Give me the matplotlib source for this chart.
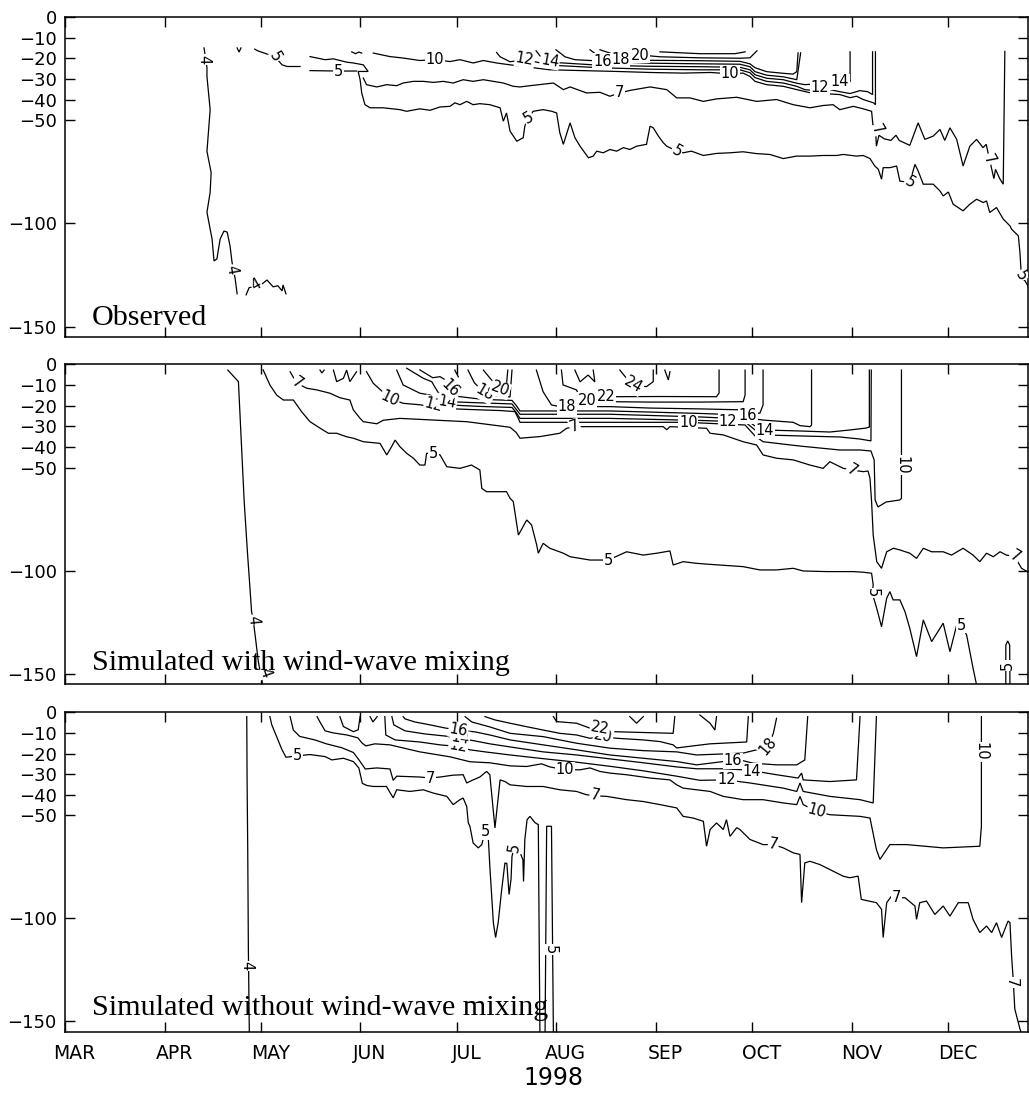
import matplotlib.pyplot as plt
import numpy as np

# time axis: days since 1 March 1998; vertical axis: depth in metres (negative down)
months = ['MAR', 'APR', 'MAY', 'JUN', 'JUL', 'AUG', 'SEP', 'OCT', 'NOV', 'DEC']
month_start = [0, 31, 61, 92, 122, 153, 184, 214, 245, 275]
depth_ticks = [0, -10, -20, -30, -40, -50, -100, -150]

# ---------------- observed isotherms (day, depth) ----------------
obs_4a = [(43.3, -15.0), (44.2, -24.6), (44.2, -28.9), (45.2, -44.9), (44.2, -65.1), (45.5, -75.3),
          (45.2, -84.9), (44.2, -94.6), (45.8, -107.6), (46.4, -118.2), (47.3, -117.2), (48.3, -107.6),
          (49.5, -103.7), (50.5, -104.2), (51.4, -111.0), (52.0, -118.7), (53.0, -126.9), (53.6, -134.1)]
obs_4b = [(56.4, -134.6), (57.3, -131.2), (61.4, -129.3), (62.9, -127.4), (64.8, -130.7), (66.3, -130.2),
          (67.6, -132.7), (67.9, -129.8), (68.8, -134.1)]
obs_4c = [(53.6, -15.0), (54.2, -17.0), (54.8, -15.0)]
obs_5a = [(59.1, -15.6), (60.0, -16.4), (65.4, -19.3), (67.6, -23.2), (69.2, -24.0), (73.2, -24.0)]
obs_5b = [(76.3, -26.0), (85.0, -26.2), (90.8, -26.2)]
obs_5c = [(76.3, -19.2), (81.0, -20.7), (83.6, -20.3), (87.7, -21.9), (89.8, -22.3), (92.9, -23.2),
          (94.4, -26.4), (91.3, -26.4), (91.9, -30.4), (92.4, -36.8), (93.4, -42.5), (95.0, -44.0),
          (99.1, -44.0), (104.3, -44.9), (106.4, -45.7), (110.5, -44.5), (113.7, -45.2), (116.8, -43.6),
          (119.9, -43.3), (121.4, -41.6), (123.0, -42.5), (125.1, -40.9), (127.1, -42.5), (129.2, -42.0),
          (132.3, -42.5), (135.5, -44.0), (136.5, -50.5), (137.5, -46.5), (138.6, -55.3), (140.7, -60.2),
          (142.7, -58.5), (143.2, -52.9), (144.3, -48.9), (145.8, -45.7), (148.9, -44.9), (151.6, -45.7),
          (153.1, -46.5), (154.1, -56.1), (155.2, -61.7), (157.3, -51.3), (158.8, -58.5), (160.4, -62.6),
          (163.0, -68.2), (164.5, -67.4), (165.6, -65.0), (167.6, -65.8), (169.7, -64.2), (171.8, -65.0),
          (173.9, -63.3), (175.9, -64.2), (178.0, -62.6), (181.1, -61.7), (182.2, -52.9), (183.2, -53.7),
          (184.8, -57.7), (186.3, -60.9), (187.4, -62.6), (190.5, -65.0), (192.5, -65.8), (195.1, -65.0),
          (198.8, -67.1), (202.9, -66.1), (207.1, -65.8), (211.2, -65.3), (215.4, -66.2), (219.5, -66.6),
          (223.7, -68.6), (227.8, -67.4), (232.0, -67.4), (236.1, -67.1), (240.3, -67.1), (242.4, -66.6),
          (246.5, -67.4), (248.6, -67.1), (250.7, -68.6), (252.2, -72.2), (253.3, -73.8), (254.3, -78.6),
          (254.8, -73.0), (256.9, -73.0), (259.0, -72.2), (260.0, -79.5), (263.1, -80.2), (264.7, -71.4),
          (265.7, -74.6), (267.3, -81.0), (270.4, -81.0), (272.5, -84.3), (273.5, -86.7), (275.1, -84.8),
          (276.6, -90.7), (279.7, -93.9), (281.8, -90.7), (283.9, -88.3), (286.0, -89.9), (287.0, -89.1),
          (288.0, -94.7), (290.1, -92.3), (292.2, -97.9), (294.3, -101.2), (294.8, -102.8), (296.9, -106.0),
          (297.4, -114.0), (297.9, -126.9), (299.0, -127.8), (300.5, -132.0)]
obs_7 = [(92.9, -29.6), (93.9, -32.8), (97.1, -33.9), (100.2, -32.8), (103.3, -33.3), (105.3, -32.0),
         (108.5, -31.2), (111.6, -31.2), (114.7, -31.7), (117.8, -31.2), (120.9, -32.0), (124.0, -30.4),
         (127.1, -31.2), (130.3, -30.4), (133.4, -31.2), (136.5, -32.0), (139.6, -33.6), (141.7, -33.9),
         (144.8, -33.3), (152.1, -32.0), (155.2, -35.2), (157.3, -33.9), (162.4, -36.8), (166.6, -36.5),
         (169.7, -38.4), (172.8, -36.8), (175.9, -35.6), (182.2, -33.9), (187.4, -35.2), (190.5, -39.2),
         (194.6, -39.2), (198.8, -40.9), (202.9, -39.7), (209.2, -38.9), (215.4, -40.9), (221.6, -40.0),
         (226.8, -42.5), (232.0, -44.0), (236.1, -42.9), (239.2, -42.5), (241.3, -44.9), (245.5, -43.3),
         (248.6, -44.5), (251.2, -45.7), (251.6, -52.1), (252.8, -54.5), (252.5, -57.0), (252.7, -62.6),
         (253.5, -57.3), (255.1, -59.0), (257.2, -59.8), (258.8, -57.3), (259.8, -59.8), (263.1, -62.2),
         (265.7, -51.3), (267.8, -59.3), (270.4, -57.7), (272.5, -54.5), (274.0, -59.8), (275.6, -53.7),
         (277.7, -59.3), (279.7, -72.2), (281.8, -62.6), (283.9, -59.3), (285.9, -63.3), (286.9, -61.7),
         (287.5, -66.0), (288.8, -75.0), (289.3, -78.3), (289.8, -73.8), (291.1, -78.3), (292.2, -81.0),
         (292.7, -16.7)]
obs_9 = [(89.3, -16.9), (90.5, -17.8), (91.5, -17.0), (92.4, -17.5)]
obs_10 = [(96.0, -17.5), (101.2, -19.2), (105.3, -19.9), (110.5, -21.1), (115.2, -20.7), (119.9, -21.6),
          (123.0, -20.7), (127.1, -22.3), (130.3, -21.1), (134.4, -22.3), (138.6, -23.2), (142.7, -24.0),
          (151.0, -25.6), (161.4, -26.0), (171.8, -26.4), (182.2, -26.9), (192.5, -27.2), (200.9, -26.9),
          (207.1, -27.5), (211.2, -27.2), (213.3, -28.8), (214.9, -31.2), (218.5, -32.8), (223.7, -33.6),
          (227.9, -35.2), (232.0, -36.7), (241.3, -37.6), (244.5, -39.1), (246.5, -38.4), (248.6, -40.0),
          (251.8, -41.6), (252.4, -42.5), (252.4, -16.9)]
obs_12 = [(134.4, -17.2), (135.5, -19.3), (138.6, -21.7), (143.2, -20.7), (147.9, -22.2), (154.1, -23.6),
          (166.6, -24.6), (182.2, -25.3), (197.7, -25.6), (210.2, -25.6), (213.3, -27.0), (214.9, -29.4),
          (218.5, -31.2), (223.7, -32.0), (227.9, -33.6), (230.4, -35.2), (233.5, -35.7), (235.1, -34.3),
          (238.2, -35.2), (241.3, -36.2), (244.5, -37.1), (247.5, -35.7), (250.0, -36.2), (251.5, -37.6),
          (251.5, -16.9)]
obs_14 = [(146.7, -16.4), (147.9, -18.8), (151.0, -21.2), (154.1, -22.2), (166.6, -23.4), (182.2, -23.9),
          (197.7, -24.1), (210.2, -24.4), (213.3, -25.6), (214.9, -28.0), (218.5, -29.7), (223.7, -30.4),
          (227.9, -32.1), (230.4, -32.8), (235.1, -32.3), (240.3, -31.4), (242.8, -31.4), (244.5, -31.4),
          (244.5, -16.9)]
obs_16 = [(152.9, -15.9), (155.7, -19.3), (158.8, -20.7), (168.5, -21.5), (182.2, -22.4), (197.7, -22.7),
          (210.2, -22.9), (213.3, -24.1), (214.9, -26.5), (218.5, -28.2), (223.7, -29.0), (227.9, -30.4),
          (229.1, -17.4)]
obs_18 = [(163.5, -15.9), (166.0, -18.8), (172.8, -20.5), (182.2, -21.0), (197.7, -21.2), (210.2, -21.5),
          (213.3, -22.7), (214.9, -24.6), (218.5, -26.5), (223.7, -27.3), (226.7, -27.7), (227.9, -26.5),
          (228.3, -17.4)]
obs_20 = [(166.6, -15.9), (171.3, -18.3), (176.9, -18.1), (185.3, -19.3), (197.7, -19.8), (210.2, -20.0),
          (213.3, -19.8), (215.5, -16.4)]
obs_22 = [(185.3, -16.9), (197.7, -17.8), (208.6, -17.8), (211.8, -16.9)]
obs_labels = [('4', 43.3, -20.7, -90), ('4', 52.0, -122.5, -80), ('4', 59.5, -129.5, 30),
              ('5', 65.4, -19.3, -60), ('5', 85.1, -26.2, 0), ('10', 115.2, -20.7, 0),
              ('12', 143.2, -20.7, -10), ('14', 151.0, -21.2, -10), ('16', 167.3, -21.5, 0),
              ('18', 173.0, -20.4, 0), ('20', 179.0, -18.5, 0), ('5', 144.3, -48.9, 30),
              ('7', 172.8, -36.8, 0), ('5', 190.5, -65.0, -30), ('10', 207.1, -27.5, 0),
              ('12', 235.1, -34.3, 0), ('14', 241.3, -31.4, 0), ('7', 252.8, -54.5, -60),
              ('5', 263.1, -80.2, -30), ('7', 287.8, -69.0, -60), ('5', 297.6, -125.5, -60)]

# ---------------- simulated with wind-wave mixing ----------------
ww_4 = [(50.7, -2.8), (54.0, -8.4), (54.3, -18.1), (55.0, -40.7), (55.8, -66.5), (56.8, -90.8),
        (57.6, -108.5), (58.1, -119.8), (58.6, -123.8), (59.2, -131.1), (60.2, -144.0), (61.3, -152.9),
        (61.7, -157.0)]
ww_5 = [(61.7, -2.7), (63.8, -10.0), (65.9, -14.9), (68.0, -17.3), (71.1, -17.3), (73.7, -23.0),
        (76.3, -27.8), (79.4, -30.9), (82.0, -33.4), (84.6, -33.4), (87.7, -35.1), (89.8, -35.8),
        (92.9, -37.5), (98.1, -38.3), (100.2, -43.9), (101.7, -39.9), (102.8, -36.7), (104.3, -39.9),
        (106.4, -43.1), (108.5, -45.5), (110.5, -48.8), (112.1, -48.8), (112.6, -43.1), (114.7, -43.1),
        (116.8, -43.9), (118.9, -49.6), (123.0, -50.4), (126.6, -48.8), (129.2, -51.2), (129.8, -60.1),
        (131.3, -61.7), (137.5, -61.7), (138.6, -64.9), (139.6, -66.5), (141.2, -82.7), (143.8, -75.4),
        (145.3, -77.8), (146.9, -87.5), (147.4, -91.5), (148.9, -86.7), (151.0, -89.1), (155.2, -91.5),
        (157.3, -93.2), (163.5, -94.8), (169.2, -94.8), (174.9, -90.8), (180.1, -92.4), (184.3, -91.5),
        (188.4, -90.4), (189.4, -97.2), (192.5, -95.6), (196.7, -96.4), (200.9, -96.9), (211.2, -98.0),
        (216.4, -99.6), (221.6, -99.6), (226.8, -98.8), (229.9, -100.1), (237.2, -100.4), (245.5, -100.4),
        (248.6, -100.7), (251.2, -101.2), (251.7, -106.9), (251.4, -110.8), (252.8, -118.2), (254.3, -127.1),
        (255.9, -113.3), (256.9, -110.1), (257.9, -114.1), (260.0, -114.1), (261.6, -119.8), (263.1, -127.9),
        (265.2, -141.6), (267.3, -123.8), (269.9, -134.3), (273.5, -125.4), (275.6, -139.2), (277.7, -126.3),
        (279.2, -126.3), (280.8, -131.1), (282.8, -147.2), (283.9, -155.3), (284.2, -158.0)]
ww_5b = [(293.0, -157.0), (293.0, -136.0), (293.6, -134.0), (294.2, -136.0), (294.3, -157.0)]
ww_7 = [(70.1, -3.6), (72.2, -9.2), (75.3, -11.6), (78.4, -12.4), (82.5, -14.0), (85.6, -16.2),
        (88.7, -17.3), (89.8, -22.1), (91.9, -26.2), (92.9, -27.8), (97.1, -28.8), (99.1, -27.1),
        (104.3, -26.2), (114.7, -27.0), (125.1, -27.8), (138.6, -30.5), (140.5, -33.0), (141.7, -35.8),
        (148.0, -35.0), (154.1, -33.4), (156.2, -31.0), (158.8, -30.2), (172.8, -30.2), (186.3, -30.2),
        (187.4, -31.7), (188.4, -30.2), (199.8, -31.0), (200.9, -33.4), (205.0, -34.2), (211.2, -37.5),
        (215.4, -39.1), (217.4, -43.9), (221.6, -45.5), (226.8, -46.3), (232.0, -48.8), (236.1, -50.4),
        (238.2, -47.2), (240.3, -48.8), (242.4, -50.4), (245.0, -51.2), (248.6, -52.0), (250.1, -51.7),
        (250.7, -55.2), (251.2, -66.5), (251.7, -82.7), (252.8, -95.6), (254.3, -98.8), (255.9, -90.8),
        (258.0, -89.1), (260.0, -89.9), (263.1, -91.5), (265.2, -94.0), (267.3, -89.1), (269.9, -90.8),
        (273.5, -90.8), (276.1, -92.4), (279.7, -89.1), (282.8, -92.4), (284.9, -95.6), (287.0, -91.5),
        (289.1, -93.2), (291.2, -90.8), (293.2, -92.4), (295.8, -93.2), (297.9, -98.8), (299.9, -100.6),
        (301.0, -101.0)]
ww_10 = [(93.9, -3.6), (96.0, -9.2), (101.2, -16.5), (105.3, -18.9), (110.5, -19.6), (116.8, -21.3),
         (126.1, -21.9), (135.5, -22.4), (140.1, -22.9), (141.1, -26.0), (141.7, -28.1), (169.7, -28.1),
         (194.1, -28.1), (197.7, -28.4), (211.8, -29.4), (214.9, -34.7), (217.4, -37.5), (228.9, -39.6),
         (241.3, -41.5), (247.6, -41.5), (251.0, -42.0), (252.0, -46.3), (252.3, -65.8), (253.2, -69.1),
         (255.7, -66.7), (260.0, -65.7), (260.5, -64.9), (260.5, -2.8)]
ww_12 = [(103.3, -2.8), (105.3, -10.0), (110.5, -14.0), (113.7, -14.9), (115.7, -17.3), (116.8, -18.9),
         (119.9, -19.7), (129.2, -20.4), (139.2, -20.9), (140.4, -23.1), (141.7, -26.2), (169.7, -26.2),
         (197.7, -27.2), (211.8, -27.9), (214.9, -31.8), (217.4, -34.2), (228.9, -34.7), (241.3, -35.2),
         (247.6, -36.2), (251.0, -37.1), (251.1, -2.8)]
ww_14 = [(106.4, -1.9), (111.6, -6.8), (114.2, -8.4), (116.1, -13.4), (119.9, -18.1), (126.1, -18.5),
         (139.2, -19.2), (140.4, -21.6), (141.7, -24.2), (169.7, -24.2), (197.7, -25.5), (211.8, -26.5),
         (214.9, -29.9), (217.4, -31.8), (228.9, -32.3), (238.2, -32.8), (244.5, -31.8), (249.4, -30.9),
         (250.5, -30.4), (250.5, -2.8)]
ww_16 = [(110.5, -2.7), (114.5, -6.5), (116.8, -6.0), (118.9, -8.0), (119.9, -11.6), (121.4, -15.4),
         (130.2, -17.0), (139.2, -17.5), (140.4, -19.7), (141.7, -22.6), (169.7, -22.6), (197.7, -23.8),
         (211.8, -24.6), (214.9, -26.5), (217.4, -27.0), (221.6, -27.5), (226.8, -28.1), (228.9, -29.7),
         (232.0, -30.2), (232.5, -29.4), (232.5, -2.8)]
ww_18a = [(125.5, -2.8), (127.5, -9.0), (130.8, -14.0), (134.8, -15.4), (138.6, -15.8), (139.2, -2.8)]
ww_20a = [(130.3, -2.8), (132.4, -6.8), (135.5, -12.0), (137.3, -13.0), (137.9, -2.8)]
ww_18b = [(146.8, -2.8), (148.9, -13.3), (151.5, -19.7), (154.1, -20.5), (169.7, -20.5), (182.2, -21.2),
          (197.7, -21.6), (211.8, -22.1), (214.9, -23.6), (216.4, -23.7), (217.4, -19.7), (217.4, -2.8)]
ww_20b = [(154.6, -2.8), (155.1, -10.0), (159.3, -12.4), (160.4, -16.2), (163.5, -17.8), (169.7, -18.1),
          (182.2, -18.3), (197.7, -18.3), (211.2, -18.1), (211.8, -14.9), (211.8, -2.8)]
ww_22 = [(164.5, -13.9), (166.1, -14.9), (169.7, -15.7), (185.3, -15.6), (202.9, -15.7), (203.7, -13.9),
         (203.7, -2.8)]
ww_24 = [(172.8, -2.8), (175.3, -7.6), (177.0, -10.0), (181.1, -10.8), (183.2, -8.4), (183.2, -2.8)]
ww_top = [
    [(79.4, -2.8), (80.0, -4.2), (80.7, -2.8)],
    [(83.6, -2.8), (84.6, -8.4), (86.7, -6.8), (87.7, -2.8), (88.7, -8.4), (90.8, -3.6)],
    [(121.4, -2.8), (122.5, -6.1)],
    [(158.8, -2.8), (160.4, -8.5), (162.9, -5.2), (165.0, -8.5), (164.5, -2.8)],
    [(186.8, -2.8), (187.9, -7.6), (188.4, -3.6)],
]
ww_labels = [('4', 58.6, -123.8, -85), ('4', 62.3, -149.6, -70), ('5', 114.7, -43.1, 0),
             ('5', 169.2, -94.8, 0), ('5', 251.4, -110.8, -90), ('5', 279.2, -126.3, 0),
             ('5', 293.6, -146.0, 90), ('7', 72.2, -9.2, -35), ('7', 158.8, -30.2, 20),
             ('7', 245.0, -51.2, -30), ('7', 295.8, -93.2, -30), ('10', 101.2, -16.5, -25),
             ('10', 194.1, -28.1, 0), ('10', 260.5, -48.8, -90), ('12', 114.9, -19.6, -15),
             ('14', 119.0, -18.3, -10), ('16', 119.9, -11.6, -45), ('18', 130.8, -14.0, -30),
             ('20', 135.5, -12.0, -20), ('18', 156.2, -20.5, 0), ('20', 162.5, -17.5, 0),
             ('22', 168.6, -15.6, 0), ('24', 177.0, -10.0, -30), ('16', 212.6, -24.9, 0),
             ('14', 218.0, -32.0, 0), ('12', 206.5, -27.6, 0)]

# ---------------- simulated without wind-wave mixing ----------------
nw_4 = [(56.6, -2.1), (56.7, -32.8), (56.9, -66.5), (57.1, -114.9), (57.4, -156.0)]
nw_5 = [(63.8, -2.1), (64.4, -6.1), (65.9, -11.8), (67.5, -17.9), (68.8, -21.8), (72.5, -21.1),
        (76.3, -20.5), (81.0, -21.5), (83.1, -23.1), (86.7, -22.3), (89.8, -23.9), (91.5, -27.0),
        (92.6, -34.5), (94.0, -35.5), (96.0, -36.0), (100.1, -36.0), (102.2, -41.5), (103.3, -37.6),
        (107.4, -38.4), (111.6, -37.6), (114.7, -39.2), (118.9, -40.8), (120.9, -44.8), (123.0, -42.4),
        (124.0, -41.6), (125.1, -45.7), (125.6, -53.7), (126.1, -55.3), (127.1, -63.4), (128.7, -65.8),
        (129.8, -64.2), (130.8, -57.9), (131.8, -60.2), (132.3, -74.7), (133.4, -102.1), (134.1, -109.3),
        (134.9, -102.1), (136.0, -86.0), (137.0, -73.1), (137.6, -73.4), (138.3, -88.4), (138.9, -81.1),
        (139.2, -70.0), (139.8, -65.7), (141.7, -68.1), (142.6, -71.5), (142.8, -82.1), (143.2, -61.8),
        (143.9, -52.1), (144.8, -50.5), (146.4, -53.6), (147.4, -54.5), (147.9, -156.1)]
nw_5b = [(149.5, -156.0), (150.0, -55.3), (151.5, -55.3), (152.1, -156.0)]
nw_7 = [(70.1, -2.1), (71.1, -8.6), (73.1, -11.7), (77.8, -13.4), (81.4, -15.3), (86.2, -17.2),
        (89.8, -19.5), (91.5, -23.0), (93.5, -27.5), (97.1, -27.0), (101.2, -27.5), (102.2, -33.0),
        (103.3, -31.0), (110.5, -31.4), (113.7, -31.9), (116.8, -31.4), (120.9, -30.5), (124.0, -30.3),
        (125.1, -34.3), (127.1, -32.8), (129.2, -31.4), (131.3, -28.7), (132.3, -30.3), (133.9, -56.1),
        (135.5, -32.8), (137.0, -33.6), (138.6, -35.2), (143.8, -36.0), (148.9, -36.0), (154.1, -37.6),
        (159.3, -38.4), (162.4, -40.0), (165.0, -40.5), (168.7, -40.8), (174.9, -42.4), (180.1, -43.3),
        (185.3, -44.8), (190.5, -46.4), (192.5, -50.5), (195.6, -51.3), (198.8, -52.9), (199.8, -65.0),
        (200.9, -56.9), (202.9, -53.7), (204.0, -55.3), (205.0, -56.9), (206.0, -52.1), (207.1, -60.2),
        (209.2, -56.0), (210.2, -56.9), (213.3, -61.7), (217.4, -64.2), (220.6, -64.2), (223.7, -65.8),
        (226.8, -68.2), (228.9, -69.0), (229.4, -92.4), (230.4, -73.1), (232.0, -72.3), (235.1, -73.9),
        (238.2, -76.3), (242.3, -79.5), (244.4, -80.3), (247.0, -79.5), (248.0, -90.8), (252.7, -92.4),
        (254.3, -95.6), (254.8, -109.3), (255.9, -92.4), (257.4, -89.2), (259.0, -90.0), (261.6, -90.0),
        (264.7, -94.0), (265.2, -100.5), (266.2, -92.4), (268.3, -91.6), (270.9, -98.1), (273.5, -94.0),
        (275.6, -98.9), (278.2, -92.4), (281.3, -92.4), (282.8, -100.5), (284.9, -106.9), (287.0, -103.7),
        (288.6, -106.9), (290.1, -102.1), (291.7, -109.3), (293.7, -101.3), (294.3, -102.1), (294.8, -118.2),
        (295.3, -129.5), (295.8, -144.0), (297.4, -153.6), (298.3, -158.0)]
nw_10 = [(78.5, -2.1), (79.4, -4.7), (81.0, -9.0), (83.5, -10.0), (87.8, -11.0), (91.2, -12.4),
         (92.5, -14.9), (93.7, -16.3), (96.5, -15.3), (101.2, -15.8), (110.5, -19.2), (119.9, -21.6),
         (126.1, -24.0), (132.3, -24.5), (138.6, -26.0), (143.8, -26.3), (148.4, -25.0), (151.0, -26.5),
         (155.7, -27.9), (160.4, -27.9), (163.5, -27.0), (166.6, -28.7), (169.7, -29.5), (174.9, -30.3),
         (182.2, -31.9), (188.4, -32.8), (190.5, -35.2), (192.5, -36.8), (196.7, -37.6), (200.9, -38.4),
         (205.0, -40.8), (211.2, -42.4), (217.4, -42.4), (223.7, -44.0), (227.9, -44.8), (228.9, -40.8),
         (229.9, -44.8), (234.1, -48.1), (238.2, -49.7), (247.6, -50.5), (250.7, -51.3), (252.7, -66.6),
         (253.8, -71.4), (256.9, -64.2), (262.1, -64.2), (273.5, -65.8), (284.9, -65.0), (285.4, -55.3),
         (285.4, -2.1)]
nw_12 = [(99.6, -2.1), (99.9, -11.0), (102.8, -13.4), (110.5, -14.4), (116.8, -15.8), (122.5, -16.6),
         (126.1, -18.2), (130.8, -19.2), (138.6, -20.7), (148.9, -22.5), (159.3, -24.2), (169.7, -26.2),
         (180.1, -28.4), (190.5, -31.0), (197.7, -33.0), (206.0, -32.8), (213.3, -34.3), (223.7, -36.8),
         (227.9, -38.4), (228.9, -34.3), (229.9, -38.4), (238.2, -40.8), (247.6, -42.4), (251.7, -44.0),
         (252.7, -2.1)]
nw_14 = [(101.8, -2.1), (102.4, -6.1), (105.9, -9.0), (112.1, -10.5), (118.3, -11.5), (123.0, -12.6),
         (127.7, -13.9), (132.3, -15.3), (138.6, -16.8), (148.9, -19.2), (159.3, -20.7), (169.7, -22.6),
         (180.1, -24.5), (190.5, -26.5), (196.7, -27.4), (205.0, -27.4), (211.2, -27.9), (215.4, -28.7),
         (221.6, -30.3), (228.3, -31.9), (229.4, -29.5), (229.9, -32.8), (238.2, -33.6), (246.5, -32.8),
         (247.6, -2.1)]
nw_16 = [(105.3, -2.1), (105.9, -3.2), (109.0, -4.7), (113.7, -6.1), (118.3, -7.6), (122.5, -8.6),
         (127.7, -9.5), (132.3, -11.0), (138.6, -13.4), (148.9, -15.8), (159.3, -18.2), (169.7, -20.7),
         (180.1, -22.3), (190.5, -23.9), (196.7, -25.5), (205.0, -23.9), (210.2, -23.1), (214.3, -24.7),
         (221.6, -25.5), (227.9, -25.5), (230.4, -23.1), (231.3, -2.1)]
nw_18 = [(124.6, -2.1), (126.7, -4.7), (132.3, -7.1), (138.6, -10.2), (148.9, -11.8), (159.3, -15.0),
         (169.7, -17.4), (180.1, -18.6), (190.5, -19.2), (196.7, -20.7), (205.0, -20.2), (211.2, -19.8),
         (215.4, -18.2), (219.0, -16.6), (220.6, -10.2), (221.6, -2.9)]
nw_20 = [(130.8, -2.1), (133.9, -3.7), (138.6, -5.3), (143.8, -7.0), (148.9, -8.6), (154.1, -10.2),
         (159.3, -11.0), (163.5, -12.6), (167.6, -11.8), (171.8, -12.6), (180.1, -13.4), (185.3, -14.2),
         (189.4, -15.8), (190.5, -17.3), (195.6, -16.3), (200.9, -15.3), (206.0, -14.9), (212.3, -14.4),
         (212.8, -2.1)]
nw_22 = [(152.1, -2.1), (153.1, -4.5), (159.3, -5.3), (163.5, -7.7), (166.6, -7.7), (170.7, -9.4),
         (189.4, -10.2), (189.9, -2.1)]
nw_top = [
    [(85.6, -2.1), (86.7, -6.9), (89.8, -9.4), (91.3, -8.5), (91.9, -2.1)],
    [(95.0, -2.1), (95.9, -4.7), (97.2, -2.1)],
    [(175.9, -2.1), (178.0, -5.3), (180.1, -2.1)],
    [(197.7, -1.3), (200.9, -5.3), (202.4, -8.6), (202.9, -2.1)],
]
nw_labels = [('4', 56.6, -123.1, -90), ('5', 72.5, -21.1, 0), ('5', 130.8, -57.9, 0),
             ('5', 139.8, -65.7, 80), ('5', 151.0, -115.0, -90), ('7', 113.7, -31.9, 0),
             ('7', 165.0, -40.5, -10), ('7', 220.6, -64.2, -10), ('7', 259.0, -90.0, 0),
             ('7', 294.8, -131.1, -90), ('10', 155.7, -27.9, 0), ('10', 234.1, -48.1, -15),
             ('10', 285.4, -19.1, -90), ('12', 122.5, -16.6, -10), ('14', 123.0, -12.6, -10),
             ('16', 122.5, -8.6, -10), ('12', 206.0, -32.8, 0), ('14', 214.0, -28.5, 0),
             ('16', 208.0, -23.6, 0), ('18', 219.0, -16.6, 50), ('20', 167.6, -11.8, -10),
             ('22', 166.6, -7.7, -10)]

obs_lines = [obs_4a, obs_4b, obs_4c, obs_5a, obs_5b, obs_5c, obs_7, obs_9, obs_10, obs_12,
             obs_14, obs_16, obs_18, obs_20, obs_22]
ww_lines = [ww_4, ww_5, ww_5b, ww_7, ww_10, ww_12, ww_14, ww_16, ww_18a, ww_20a, ww_18b, ww_20b,
            ww_22, ww_24] + ww_top
nw_lines = [nw_4, nw_5, nw_5b, nw_7, nw_10, nw_12, nw_14, nw_16, nw_18, nw_20, nw_22] + nw_top

panels = [
    ('Observed', obs_lines, obs_labels, [0.0632, 0.6917, 0.9361, 0.2928], 0.037),
    ('Simulated with wind-wave mixing', ww_lines, ww_labels, [0.0632, 0.3739, 0.9361, 0.2928], 0.045),
    ('Simulated without wind-wave mixing', nw_lines, nw_labels, [0.0632, 0.0561, 0.9361, 0.2922], 0.052),
]

fig = plt.figure(figsize=(10.29, 10.93), dpi=100)

for i, (name, lines, labels, box, ty) in enumerate(panels):
    ax = fig.add_axes(box)
    for ln in lines:
        d, z = np.array(ln).T
        ax.plot(d, z, color='k', lw=0.9, solid_joinstyle='miter')
    for txt, d, z, rot in labels:
        ax.text(d, z, txt, rotation=rot, ha='center', va='center', fontsize=10.5,
                rotation_mode='anchor', zorder=4, clip_on=True,
                bbox=dict(boxstyle='square,pad=0.05', fc='white', ec='none'))
    ax.text(0.028, ty, name, transform=ax.transAxes, fontsize=21.7,
            family='Liberation Serif', va='baseline', ha='left', zorder=5)

    ax.set_xlim(0, 300)
    ax.set_ylim(-155, 0)
    ax.set_yticks(depth_ticks)
    ax.set_yticklabels([str(t).replace('-', '\u2212') for t in depth_ticks])
    ax.set_xticks(month_start)
    ax.set_xticklabels([])
    ax.tick_params(which='major', direction='in', top=True, right=True, length=7, width=1,
                   labelsize=13, pad=6)
    if i == 2:
        ax.set_xticks([m + 3 for m in month_start], minor=True)
        ax.set_xticklabels(months, minor=True)
        ax.tick_params(which='minor', length=0, labelsize=13.5, pad=9)
    for sp in ax.spines.values():
        sp.set_linewidth(1.1)

fig.text(0.5375, 0.0135, '1998', ha='center', va='center', fontsize=17)

fig.savefig('out.png', dpi=100)
